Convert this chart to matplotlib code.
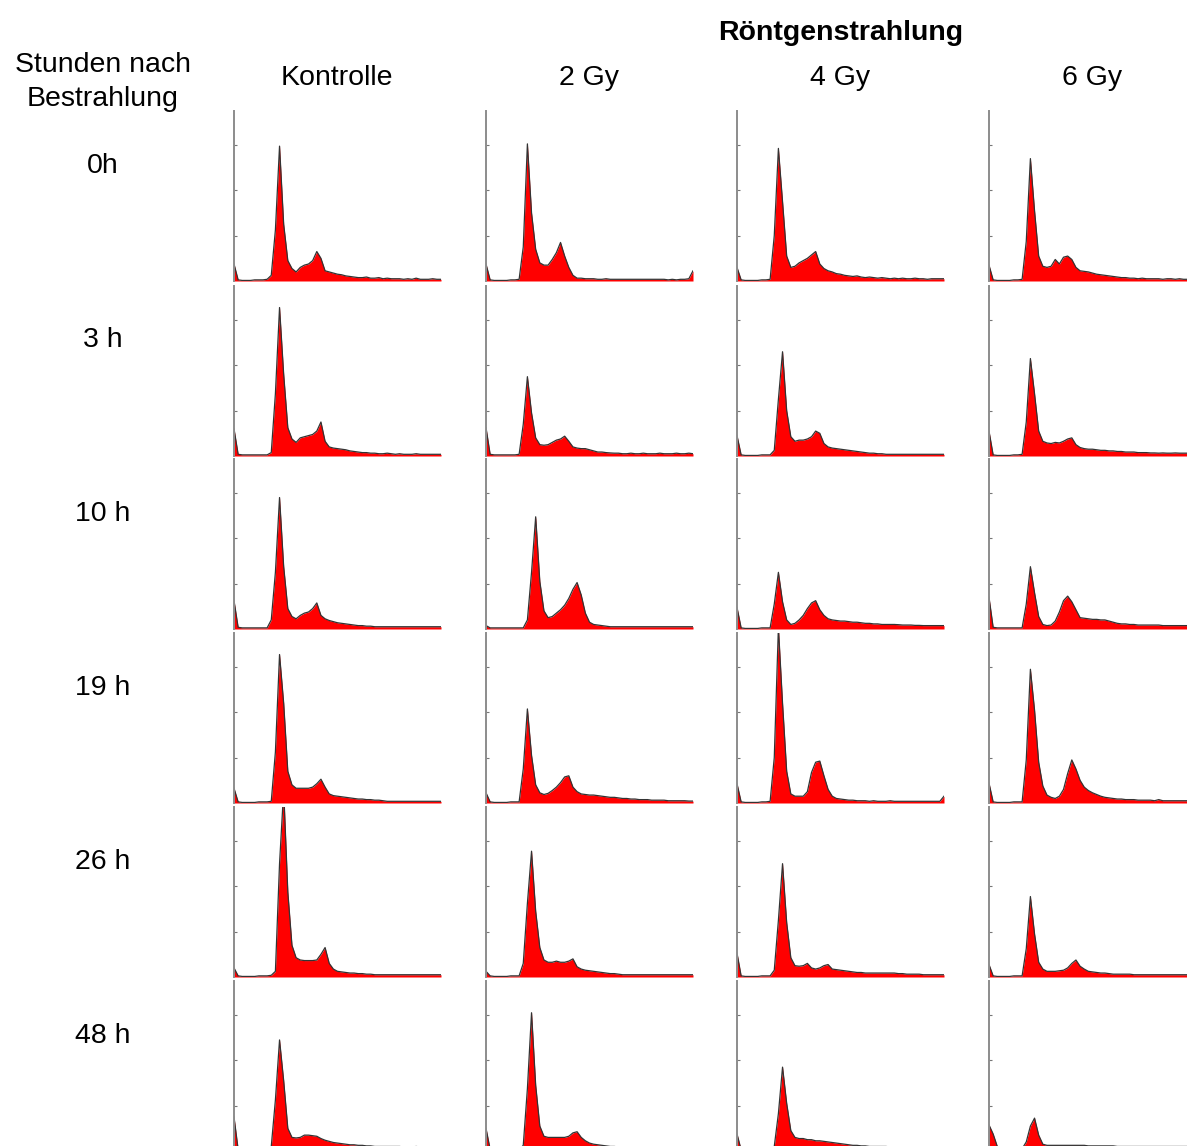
import numpy as np
import matplotlib.pyplot as plt

# DNA content histograms (channel 0-250, bin 5) per time point and dose
channels = np.arange(0, 251, 5)
times = ['0h', '3 h', '10 h', '19 h', '26 h', '48 h']
doses = ['Kontrolle', '2 Gy', '4 Gy', '6 Gy']

ctrl_0h = [15,1,0.5,0.5,0.5,1,1,1,1.5,5, 45,119,50,18,11,8,12,14,15,18,
           26,20,9,8,7,6,5.5,4.5,4,3.5, 3,3,3.5,2.5,2.5,3,2,2.5,2,2,
           2,1.5,2,1.5,2.5,1.5,1.5,1.5,2,1.5, 1.5]
gy2_0h = [15,1,0.5,0.5,0.5,0.5,1,1,1.5,30, 121,60,28,16,14,14,19,25,34,22,
          12,5,2.5,2.5,2,2,2,1.5,1.5,2, 1.5,1.5,1.5,1.5,1.5,1.5,1.5,1.5,1.5,1.5,
          1.5,1.5,1.5,1.5,1,1.5,1,1.5,1.5,2, 9]
gy4_0h = [12,1,0.5,0.5,0.5,0.5,1,1,1.5,40, 117,70,22,12,13,16,18,20,23,26,
          15,11,9,8,6.5,6,5,4.5,4,4.5, 3.5,3,3.5,3,2.5,3,2.5,2,2.5,2,
          2.5,2,2,2.5,2,2,1.5,2,2,2, 2]
gy6_0h = [14,1,0.5,0.5,0.5,0.5,1,1,1.5,35, 108,62,22,13,12,13,19,15,21,22,
          19,12,9,8.5,8,7,6,5.5,5,4.5, 4,3.5,3,3,2.5,2.5,2,2.5,2,2,
          2,2,1.5,2,2,1.5,2,1.5,1.5,1.5, 1.5]

ctrl_3h = [24,1.5,1,1,1,1,1,1,1,3, 55,131,72,25,15,12,16,17,18,19,
           22,30,13,8,7,6.5,6,5.5,4.5,4, 3.5,3,3,2.5,2.5,2,2,2.5,2,1.5,
           2,1.5,1.5,1.5,2,1.5,1.5,1.5,1.5,1.5, 1.5]
gy2_3h = [25,1.5,1,1,1,1,1,1,1.5,28, 70,38,16,10,9.5,10,12,14,15,17.5,
          13,8,7,6.5,6.5,5.5,4.5,3.5,3.5,3, 2.7,2.5,2.5,2,2,2.5,2,2,2.5,2,
          2,2,2.5,2,2,2,2.5,2,2,2.5, 2]
gy4_3h = [18,1,0.5,0.5,0.5,0.5,1,1,1,5, 50,92,40,17,13,14,14,15,17,22,
          20,11,8,7,6.5,6,5.5,5,4.5,4, 3.5,3,2.5,2.5,2,2,1.5,1.5,1.5,1.5,
          1.5,1.5,1.5,1.5,1.5,1.5,1.5,1.5,1.5,1.5, 1.5]
gy6_3h = [22,1,0.5,0.5,0.5,0.5,1,1,1.5,30, 86,55,22,13,11.5,11,12,11.5,13,15,
          16,10,7.5,6.5,6,6,5.5,5,5,4.5, 4.5,4,4,3.5,3.5,3.5,3,3,3,2.7,
          2.7,2.5,2.7,2.5,2.5,2.7,2.5,2.5,2.5,2.5, 2.5]

ctrl_10h = [25,1.5,1,1,1,1,1,1,1,8, 50,116,55,18,11,9,12,14,15,18,
            23,12,9,7.5,6.5,5.5,5,4.5,4,3.5, 3,3,2.5,2.5,2,2,2,2,2,2,
            2,2,2,2,2,2,2,2,2,2, 2]
gy2_10h = [3,1,1,1,1,1,1,1,1,1, 8,50,99,42,16,10,11,14,17,21,
           27,35,41,30,14,6,4,3.5,3,2.5, 2,2,2,2,2,2,2,2,2,2,
           2,2,2,2,2,2,2,2,2,2, 2]
gy4_10h = [19,1,0.5,0.5,0.5,0.5,1,1,1,22, 50,24,8,4,5,8,12,18,23,25,
           17,12,9,8,7.5,7,7,6.5,6,6, 5.5,5,5,4.5,4.5,4,4,4,4,3.8,
           3.5,3.5,3.5,3.2,3.2,3,3,3,3,3, 3]
gy6_10h = [28,1.5,1,1,1,1,1,1,1,22, 55,32,11,4,3,3.5,7,15,25,29,
           24,17,10,9.5,9,8.5,8.5,8,8,7, 6,5,4.5,4.5,4,4,3.5,3.5,3.5,3.5,
           3.5,3.5,3,3,3,3,3,3,3,3, 3]

ctrl_19h = [13,1,0.5,0.5,0.5,0.5,1,1,1,1.5, 45,131,88,28,16,13,13,13,13,14,
            17,21,14,8,6.5,6,5.5,5,4.5,4, 3.5,3.5,3,3,2.5,2.5,2,1.5,1.5,1.5,
            1.5,1.5,1.5,1.5,1.5,1.5,1.5,1.5,1.5,1.5, 1.5]
gy2_19h = [9,1,0.5,0.5,0.5,0.5,1,1,1,30, 83,42,16,9,7.5,8.5,11,14,18,23,
           24,14,10,8,7.5,7,7,6.5,6,5.5, 5,5,4.5,4,4,3.5,3.5,3,3,3,
           2.5,2.5,2.5,2.5,2,2,2,2,2,1.7, 1.7]
gy4_19h = [17,1,0.5,0.5,0.5,0.5,1,1,1.5,40, 155,88,28,8,6,6,6,10,27,36,
           37,24,12,6,4,3.5,3,2.5,2.5,2, 2,2,1.5,2,1.5,1.5,1.5,2,1.5,1.5,
           1.5,1.5,1.5,1.5,1.5,1.5,1.5,1.5,1.5,1.5, 6]
gy6_19h = [17.5,1,0.5,0.5,0.5,0.5,1,1,1,38, 118,82,36,15,7,5,4,6,12,26,
           38,30,20,14,11,9,7.5,6,5,4.5, 4,3.5,3.5,3,3,3,2.5,2.5,2.5,2.5,
           2,3,2,2,2,2,2,2,2,2, 2]

ctrl_26h = [8,1,0.5,0.5,0.5,0.5,1,1,1,1.5, 5,100,165,75,28,17,15,14.5,14.5,14.5,
            15,20,26,12,7,5,4.5,4,3.5,3.5, 3,3,2.5,2.5,2,2,2,2,2,2,
            2,2,2,2,2,2,2,2,2,2, 2]
gy2_26h = [5,1,0.5,0.5,0.5,0.5,1,1,1,12, 65,111,58,26,15,13,13,14,13,13,
           14,16,9,7,6,5.5,5,4.5,4,3.5, 3,3,2.5,2,2,2,2,2,2,2,
           2,2,2,2,2,2,2,2,2,2, 2]
gy4_26h = [21,1,0.5,0.5,0.5,0.5,1,1,1,6, 50,100,48,17,10,9.5,10,12,8,7,
           8,10,11,7,6.5,6,5.5,5,4.5,4, 4,3.5,3.5,3.5,3.5,3.5,3.5,3.5,3.5,3,
           3,2.5,2.5,2.5,2.5,2,2,2,2,2, 2]
gy6_26h = [11,1,0.5,0.5,0.5,0.5,1,1,1,25, 71,38,13,7,5,5,5,5.5,6,8,
           12,15,9.5,7,5,4.5,4,3.5,3.5,3, 2.5,2.5,2.5,2.5,2.5,2,2,2,2,2,
           2,2,2,2,2,2,2,2,2,2, 2]

ctrl_48h = [30,1.5,1,1,1,1,1,1,1,4, 45,98,62,20,12,11.5,12,14,14,13.5,
            13,11,9.5,8.5,7.5,7,6.5,6,5.5,5.5, 5,5,4.5,4.5,4,4,4,4,4,4,
            4,3.5,3.5,3.5,4,3.5,3.5,3.5,3.5,3.5, 3.5]
gy2_48h = [20,1.5,1,1,1,1,1,1,1,5, 55,122,58,22,13,12,12,12,12,12,
           13,16,17,12,9,7,6,5.5,5,4.5, 4,4,3.5,3.5,3,3,3,3,3,3,
           3,3,3,3,3,3,3,3,3,3, 3]
gy4_48h = [15,1,1,1,1,1,1,1,1,4, 33,74,42,18,12,11,11,10,10,9,
           9,8.5,8,7.5,7,6.5,6,5.5,5,5, 4.5,4.5,4,4,4,4,4,3.5,3.5,3.5,
           3.5,3.5,3.5,3.5,3.5,3.5,3.5,3.5,3.5,3.5, 3.5]
gy6_48h = [23,15,4,2,2,2,2,2,2,8, 22,29,14,6,5,5,5,5,5,5,
           5,5,5,5,4.5,4.5,4.5,4.5,4.5,4.5, 4.5,4,4,4,4,4,4,4,4,4,
           4,4,4,4,4,4,4,4,4,4, 4]

counts = [[ctrl_0h, gy2_0h, gy4_0h, gy6_0h],
          [ctrl_3h, gy2_3h, gy4_3h, gy6_3h],
          [ctrl_10h, gy2_10h, gy4_10h, gy6_10h],
          [ctrl_19h, gy2_19h, gy4_19h, gy6_19h],
          [ctrl_26h, gy2_26h, gy4_26h, gy6_26h],
          [ctrl_48h, gy2_48h, gy4_48h, gy6_48h]]

W, H = 1187., 1146.
plt.rcParams['font.family'] = ['Liberation Sans', 'DejaVu Sans']
fig = plt.figure(figsize=(W/100, H/100), dpi=100)

# panel placement in pixels
col_x = [234, 486, 737, 989]
row_top = [111, 286, 459, 633, 807, 981]
pw, ph = 207, 170

def histpanel(ax, y):
    ax.fill_between(channels, y, 0, color='#ff0000', lw=0)
    ax.plot(channels, y, color='#333333', lw=0.9)
    ax.set_xlim(0, 250)
    ax.set_ylim(0, 150)
    for s in ['top', 'right', 'bottom']:
        ax.spines[s].set_visible(False)
    ax.spines['left'].set_color('#8c8c8c')
    ax.spines['left'].set_linewidth(1.4)
    ax.set_xticks([])
    ax.set_yticks([40, 80, 120])
    ax.set_yticklabels([])
    ax.tick_params(axis='y', direction='in', length=2, width=0.8, color='#777777')
    ax.patch.set_alpha(0)

for i in range(len(times)):
    for j in range(len(doses)):
        ax = fig.add_axes([col_x[j]/W, 1 - (row_top[i] + ph)/H, pw/W, ph/H])
        histpanel(ax, counts[i][j])

fs = 20.5
def ftext(x, ybase, s, **kw):
    fig.text(x/W, 1 - ybase/H, s, ha='center', va='baseline', fontsize=fs, **kw)

ftext(841, 40, 'Röntgenstrahlung', fontweight='bold')
for x, d in zip([337, 589, 840, 1092], doses):
    ftext(x, 85, d)
ftext(103, 72, 'Stunden nach')
ftext(103, 106, 'Bestrahlung')
for i, t in enumerate(times):
    ftext(103, 173 + 174*i, t)

fig.savefig('out.png', dpi=100)
